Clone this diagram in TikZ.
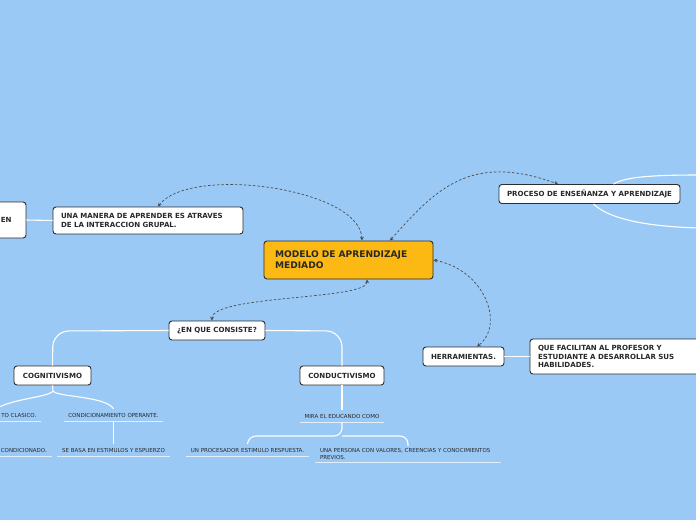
\documentclass[tikz,border=0pt]{standalone}
\usepackage{fontspec}
\setmainfont{DejaVu Sans}
\usetikzlibrary{arrows.meta}
\definecolor{bg}{RGB}{154,201,246}
\definecolor{orng}{RGB}{253,185,19}
\definecolor{edge}{RGB}{45,45,45}
\definecolor{dtext}{RGB}{40,40,40}
\definecolor{uline}{RGB}{225,238,252}
\begin{document}
\begin{tikzpicture}[x=1pt,y=-1pt,
  box/.style={draw=edge, line width=0.9pt, rounded corners=3pt, fill=white,
    font=\bfseries\fontsize{7.05}{8.5}\selectfont, text=dtext, inner ysep=0pt,
    inner xsep=0pt, align=center},
  mainbox/.style={box, fill=orng, font=\bfseries\fontsize{9.1}{11}\selectfont, align=left},
  leaf/.style={font=\fontsize{5.5}{7}\selectfont, text=dtext, inner xsep=4.5pt,
    inner ysep=0pt, minimum height=12pt},
  wline/.style={draw=white, line width=1.1pt},
  ulin/.style={draw=uline, line width=1pt},
  dline/.style={draw=edge!85, line width=0.7pt, dash pattern=on 2.5pt off 2pt,
    {Stealth[length=3.8pt,width=3.8pt]}-{Stealth[length=3.8pt,width=3.8pt]}}
]
\fill[bg] (0,0) rectangle (696,520);
\useasboundingbox (0,0) rectangle (696,520);

% coordinates for free ends
\coordinate (p1) at (700,175);
\coordinate (p2) at (700,228);

% main boxes
\node[mainbox, minimum width=169pt, minimum height=38pt, text width=147pt, inner xsep=11pt] (mod) at (348.5,260) {MODELO DE APRENDIZAJE\\MEDIADO};
\node[box, minimum height=27pt, text width=174pt, inner xsep=8pt, align=left] (una) at (148,220.5) {UNA MANERA DE APRENDER ES ATRAVES\\DE LA INTERACCION GRUPAL.};
\node[box, minimum height=36pt, text width=60pt, inner xsep=14.5pt, align=right] (en) at (-18.5,220) {EN};
\node[box, minimum width=181pt, minimum height=19pt] (pro) at (589.5,194) {PROCESO DE ENSEÑANZA Y APRENDIZAJE};
\node[box, minimum width=96pt, minimum height=19pt] (enq) at (217,330.5) {¿EN QUE CONSISTE?};
\node[box, minimum width=77pt, minimum height=19pt] (cog) at (52.5,375.5) {COGNITIVISMO};
\node[box, minimum width=84pt, minimum height=19pt] (cond) at (342,375.5) {CONDUCTIVISMO};
\node[box, minimum width=81pt, minimum height=19pt] (her) at (463.5,356.5) {HERRAMIENTAS.};
\node[box, minimum height=35pt, text width=156pt, inner xsep=8pt, align=left] (que) at (616,356.5) {QUE FACILITAN AL PROFESOR Y\\ESTUDIANTE A DESARROLLAR SUS\\HABILIDADES.};

% leaves
\node[leaf, anchor=east] (cc) at (41,415) {TO CLASICO.};
\node[leaf] (co) at (113.5,415) {CONDICIONAMIENTO OPERANTE.};
\node[leaf, anchor=east] (cd) at (51.5,450) {CONDICIONADO.};
\node[leaf] (se) at (113.5,450) {SE BASA EN ESTIMULOS Y ESPUERZO};
\node[leaf] (mira) at (342,416) {MIRA EL EDUCANDO COMO};
\node[leaf] (up) at (247.5,450) {UN PROCESADOR ESTIMULO RESPUESTA.};
\node[leaf, text width=176pt, align=left, minimum height=16pt] (per) at (408,454) {UNA PERSONA CON VALORES, CREENCIAS Y CONOCIMIENTOS\\PREVIOS.};

% underlines
\foreach \n in {cc,co,cd,se,mira,up,per}{
  \draw[ulin] (\n.south west) -- (\n.south east);
}

% white connectors
\draw[wline] (en.east) -- (una.west);
\draw[wline] (her.east) -- (que.west);
\draw[wline] ([xshift=24pt]pro.north) .. controls (625,177) and (650,175) .. (p1);
\draw[wline] ([xshift=4pt]pro.south) .. controls (612,222) and (660,227) .. (p2);
\draw[wline, rounded corners=16pt] (enq.west) -- (53,331) -- (cog.north);
\draw[wline, rounded corners=16pt] (enq.east) -- (342,331) -- (cond.north);
\draw[wline] (cog.south) -- (53,391) .. controls (56,397) and (106,396) .. (co.north);
\draw[wline] (53,391) .. controls (50,397) and (10,399) .. (cc.north west);
\draw[wline] (co.south) -- (se.north);
\draw[wline] (cond.south) -- (mira.north);
\draw[wline, rounded corners=8pt] (mira.south) -- (342,436) -- (248,436) -- (up.north);
\draw[wline, rounded corners=8pt] (342,436) -- (408,436) -- (per.north);

% dashed connectors
\draw[dline] ([xshift=13.5pt]mod.north) .. controls (360,188) and (190,165) .. ([xshift=10pt]una.north);
\draw[dline] ([xshift=41.5pt]mod.north) .. controls (435,190) and (470,152) .. ([xshift=-31.5pt]pro.north);
\draw[dline] (mod.east) .. controls (485,270) and (505,325) .. ([xshift=13.5pt]her.north);
\draw[dline] ([xshift=18.5pt]mod.south) .. controls (368,300) and (212,295) .. ([xshift=-5pt]enq.north);
\end{tikzpicture}
\end{document}
